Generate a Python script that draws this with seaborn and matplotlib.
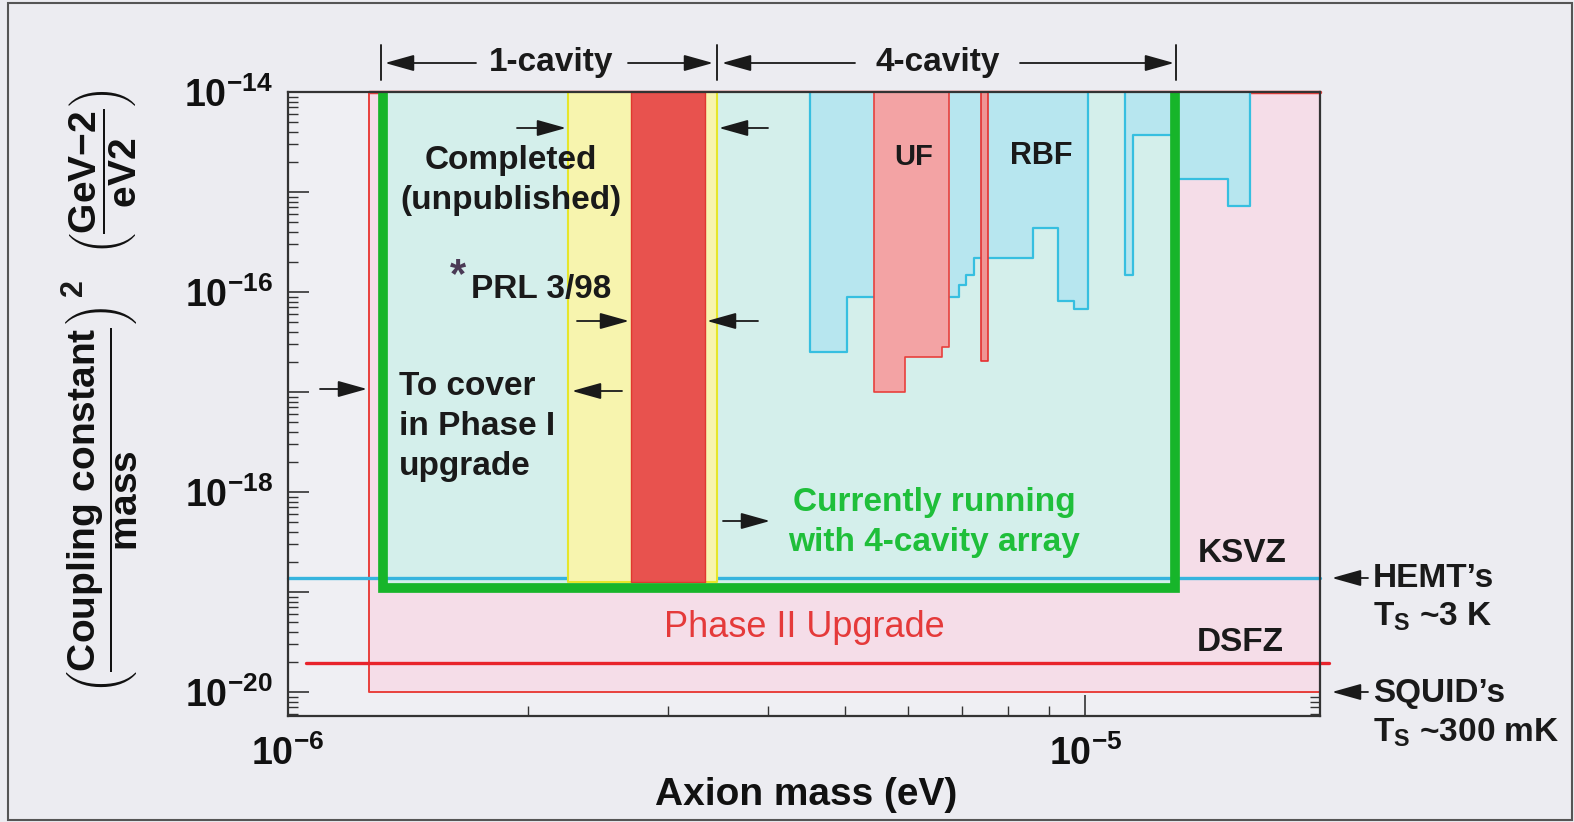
import numpy as np
import pandas as pd
import matplotlib
matplotlib.use("Agg")
import matplotlib.pyplot as plt
import seaborn as sns
from matplotlib.patches import Rectangle
from matplotlib.ticker import FixedLocator, LogLocator, FuncFormatter, NullFormatter

# ---------------- data ----------------
mass_range = [1.0e-6, 1.97e-5]          # eV
coupling_range = [5.75e-21, 1.0e-14]    # (g/m)^2

ksvz_coupling = 1.38e-19
dsfz_coupling = 1.95e-20
dsfz_mass = [1.053e-6, 2.02e-5]

phase2_mass = [1.263e-6, 3.0e-5]
phase2_floor = 1.0e-20

cavity4_mass = [1.315e-6, 1.297e-5]
cavity4_floor = 1.096e-19

completed_mass = [2.244e-6, 3.448e-6]
prl_mass = [2.69e-6, 3.33e-6]
band_floor = 1.25e-19

cavity_split = [1.31e-6, 3.448e-6, 1.30e-5]   # 1-cavity | 4-cavity boundaries

rbf_edges = [4.51e-6, 5.02e-6, 6.95e-6, 7.09e-6, 7.26e-6, 8.61e-6, 9.25e-6, 9.69e-6, 1.009e-5]
rbf_limits = [2.51e-17, 8.91e-17, 1.17e-16, 1.48e-16, 2.19e-16, 4.37e-16, 8.13e-17, 6.76e-17]

high_edges = [1.122e-5, 1.148e-5, 1.297e-5, 1.511e-5, 1.61e-5]
high_limits = [1.48e-16, 3.72e-15, 1.35e-15, 7.24e-16]

uf_edges = [5.44e-6, 5.95e-6, 6.62e-6, 6.75e-6]
uf_limits = [1.0e-17, 2.24e-17, 2.82e-17]

narrow_edges = [7.41e-6, 7.56e-6]
narrow_limits = [2.04e-17]

y_major_exps = [-20, -19, -18, -17, -16, -15, -14]
y_label_exps = [-20, -18, -16, -14]
x_major_exps = [-6, -5]

# ---------------- style ----------------
W, H = 1574, 822
sns.set_theme(style="ticks")
plt.rcParams["font.family"] = ["Liberation Sans", "DejaVu Sans"]
plt.rcParams["font.weight"] = "bold"
plt.rcParams["mathtext.fontset"] = "custom"
plt.rcParams["mathtext.rm"] = "Liberation Sans:bold"
plt.rcParams["mathtext.bf"] = "Liberation Sans:bold"
plt.rcParams["mathtext.it"] = "Liberation Sans:bold:italic"
plt.rcParams["mathtext.sf"] = "Liberation Sans:bold"

BG = "#ececf1"
fig = plt.figure(figsize=(W / 100, H / 100), dpi=100, facecolor=BG)
ax = fig.add_axes([288 / W, 1 - 716 / H, (1320 - 288) / W, (716 - 92) / H])
ax.set_facecolor("#efeff3")
ax.set_xscale("log")
ax.set_yscale("log")
ax.set_xlim(*mass_range)
ax.set_ylim(*coupling_range)
top = coupling_range[1]

# Phase II region (pink)
ax.fill_between(phase2_mass, phase2_floor, top, color="#f5dde8", lw=0, zorder=1)
ax.plot([phase2_mass[0], phase2_mass[0], phase2_mass[1]], [top, phase2_floor, phase2_floor],
        color="#e8403c", lw=1.4, zorder=1.2)
ax.plot([phase2_mass[0], mass_range[1]], [top, top], color="#e8403c", lw=2.5,
        zorder=1.2, clip_on=False)

# 4-cavity running region fill
ax.fill_between(cavity4_mass, cavity4_floor, top, color="#d4efeb", lw=0, zorder=1.5)


def step_region(edges, limits, face, edge, z, lw=1.6):
    e = np.asarray(edges)
    l = np.asarray(limits)
    ax.fill_between(e, np.append(l, l[-1]), top, step="post", color=face, lw=0, zorder=z)
    xs = np.repeat(e, 2)
    ys = np.concatenate([[top], np.repeat(l, 2), [top]])
    ax.plot(xs, ys, color=edge, lw=lw, zorder=z + 0.1)


step_region(rbf_edges, rbf_limits, "#b7e6ef", "#36bfe0", 2)
step_region(high_edges, high_limits, "#b7e6ef", "#36bfe0", 2)
step_region(uf_edges, uf_limits, "#f3a3a4", "#e8403c", 2.5, lw=1.2)
step_region(narrow_edges, narrow_limits, "#f09494", "#e53030", 2.5, lw=1.2)

# KSVZ / DSFZ lines via seaborn
lines_df = pd.DataFrame({
    "mass": [mass_range[0], mass_range[1], dsfz_mass[0], dsfz_mass[1]],
    "coupling": [ksvz_coupling, ksvz_coupling, dsfz_coupling, dsfz_coupling],
    "model": ["KSVZ", "KSVZ", "DSFZ", "DSFZ"],
})
sns.lineplot(data=lines_df, x="mass", y="coupling", hue="model",
             palette={"KSVZ": "#36b4de", "DSFZ": "#e8232b"}, estimator=None,
             sort=False, lw=2.4, legend=False, ax=ax, zorder=3)
for ln in ax.lines[-2:]:
    ln.set_clip_on(False)

# completed (yellow) and PRL (red) bands
ax.fill_between(completed_mass, band_floor, top, facecolor="#f7f4ae", edgecolor="#e6e62a",
                lw=1.5, zorder=3.5)
ax.fill_between(prl_mass, band_floor, top, facecolor="#e8524e", edgecolor="#e0382f",
                lw=1.0, zorder=4)

# green outline of 4-cavity region
ax.plot([cavity4_mass[0], cavity4_mass[0], cavity4_mass[1], cavity4_mass[1]],
        [top, cavity4_floor, cavity4_floor, top], color="#17b52a", lw=7,
        solid_joinstyle="miter", zorder=5)

# ---------------- axes/ticks ----------------
for s in ax.spines.values():
    s.set_linewidth(1.6)
    s.set_color("#333333")
    s.set_zorder(6)
ax.yaxis.set_major_locator(FixedLocator([10.0 ** e for e in y_major_exps]))
ax.yaxis.set_minor_locator(LogLocator(base=10, subs=np.arange(2, 10)))
ax.xaxis.set_major_locator(FixedLocator([10.0 ** e for e in x_major_exps]))
ax.xaxis.set_minor_locator(LogLocator(base=10, subs=np.arange(2, 10)))


def ylab(v, pos):
    e = int(round(np.log10(v)))
    return r"$10^{-%d}$" % (-e) if e in y_label_exps else ""


def xlab(v, pos):
    e = int(round(np.log10(v)))
    return r"$10^{-%d}$" % (-e)


ax.yaxis.set_major_formatter(FuncFormatter(ylab))
ax.xaxis.set_major_formatter(FuncFormatter(xlab))
ax.yaxis.set_minor_formatter(NullFormatter())
ax.xaxis.set_minor_formatter(NullFormatter())
ax.tick_params(which="both", direction="in", top=True, right=True, colors="#333333",
               labelcolor="#111111")
ax.tick_params(which="major", length=15, width=1.2, labelsize=27)
ax.tick_params(which="minor", length=7, width=1.0)
ax.tick_params(axis="y", which="major", pad=11)
ax.tick_params(axis="x", which="major", pad=14)

ax.set_xlabel("Axion mass (eV)", fontsize=28, fontweight="bold", color="#111111")
ax.xaxis.label.set_va("center")
ax.xaxis.set_label_coords((806 - 288) / 1032, (716 - 795) / 624)
ax.set_ylabel(r"$\left(\dfrac{\mathrm{Coupling\ constant}}{\mathrm{mass}}\right)$",
              fontsize=28, color="#111111")
ax.yaxis.label.set_va("center")
ax.yaxis.set_label_coords((102 - 288) / 1032, (716 - 500) / 624)


# ---------------- annotations ----------------
def P(x, y):
    return (x / W, 1 - y / H)


def ftext(x, y, s, size=24, color="#1a1a1a", ha="center", weight="bold", **kw):
    fig.text(x / W, 1 - y / H, s, fontsize=size, color=color, ha=ha, va="center",
             fontweight=weight, zorder=10, **kw)


def arrow(x0, y0, x1, y1):
    ax.annotate("", xy=P(x1, y1), xytext=P(x0, y0), xycoords="figure fraction",
                textcoords="figure fraction", annotation_clip=False,
                arrowprops=dict(arrowstyle="-|>,head_length=1.0,head_width=0.28",
                                mutation_scale=18, lw=1.3, color="#1a1a1a",
                                shrinkA=0, shrinkB=0), zorder=10)


# rest of the y-axis label: exponent and units
ftext(74, 288, "2", size=22, rotation=90)
ftext(102, 172, r"$\left(\dfrac{\mathrm{GeV{-}2}}{\mathrm{eV2}}\right)$", size=28,
      rotation=90, color="#111111")

# top cavity ranges
bt = ax.get_xaxis_transform()
for xb in cavity_split:
    ax.plot([xb, xb], [(716 - 45) / 624, (716 - 80) / 624], transform=bt,
            color="#222222", lw=1.4, clip_on=False)
ftext(551, 63, "1-cavity")
ftext(938, 63, "4-cavity")
arrow(476, 63, 385, 63)
arrow(628, 63, 713, 63)
arrow(855, 63, 722, 63)
arrow(1020, 63, 1174, 63)

ftext(511, 161, "Completed")
ftext(511, 201, "(unpublished)")
arrow(517, 128, 566, 128)
arrow(768, 128, 719, 128)

ftext(458, 276, "*", size=30, color="#4a3a55")
ftext(471, 289, "PRL 3/98", ha="left")
arrow(577, 321, 629, 321)
arrow(758, 321, 707, 321)

ftext(399, 386, "To cover", ha="left")
ftext(399, 426, "in Phase I", ha="left")
ftext(399, 466, "upgrade", ha="left")
arrow(320, 389, 367, 389)
arrow(622, 391, 572, 391)

ftext(934, 502, "Currently running", color="#1fbf3a")
ftext(934, 542, "with 4-cavity array", color="#1fbf3a")
arrow(723, 521, 770, 521)

ftext(914, 157, "UF", size=21)
ftext(1041, 156, "RBF", size=22)
ftext(1242, 554, "KSVZ", size=24)
ftext(1240, 642, "DSFZ", size=24)
ftext(804, 627, "Phase II Upgrade", size=26, color="#e53a3a", weight="normal")

ftext(1373, 578, "HEMT\u2019s", size=24, ha="left")
ftext(1373, 617, r"T$_{\mathrm{S}}$ ~3 K", size=24, ha="left")
ftext(1373, 693, "SQUID\u2019s", size=24, ha="left")
ftext(1373, 733, r"T$_{\mathrm{S}}$ ~300 mK", size=24, ha="left")
arrow(1368, 578, 1332, 578)
arrow(1368, 692, 1332, 692)

# outer frame
fig.add_artist(Rectangle((8 / W, 1 - 820 / H), (1572 - 8) / W, (820 - 3) / H,
                         transform=fig.transFigure, fill=False, lw=1.5, ec="#555555"))

fig.savefig("out.png", dpi=100, facecolor=BG)
